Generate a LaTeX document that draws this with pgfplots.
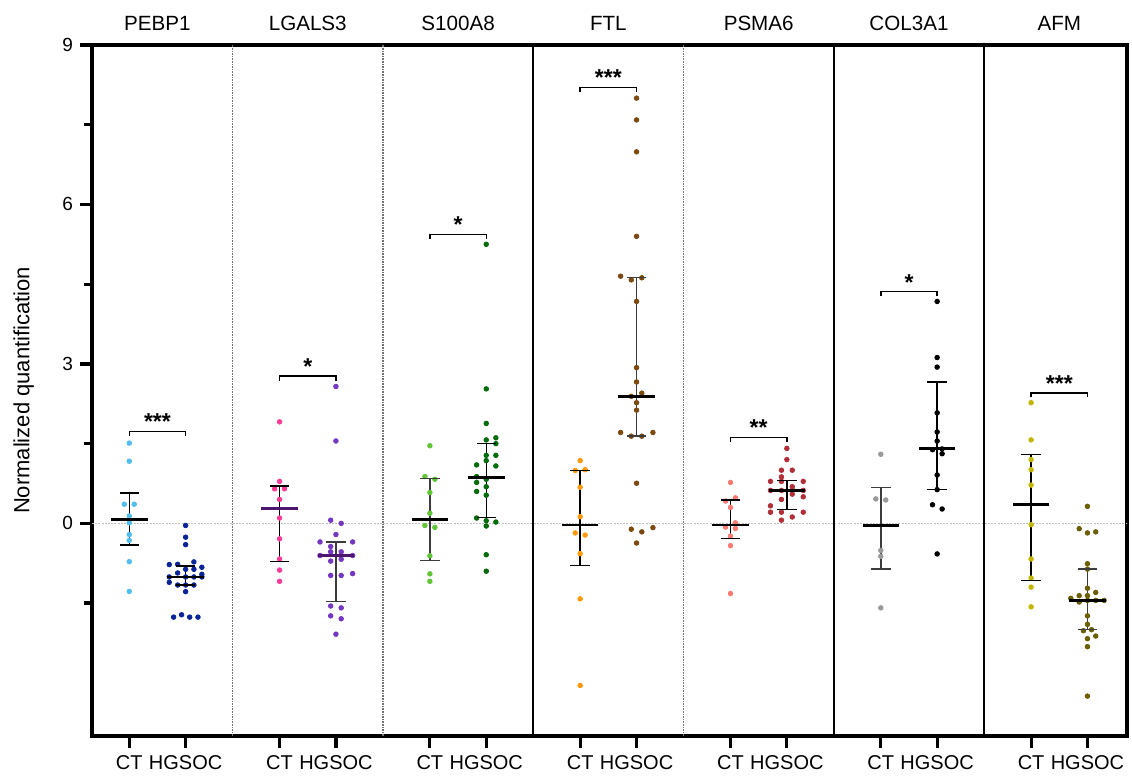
\documentclass[border=0pt]{standalone}
\usepackage{fontspec}
\setmainfont{Liberation Sans}
\usepackage{pgfplots}
\pgfplotsset{compat=1.18}

\definecolor{cPEct}{HTML}{52BEEE}
\definecolor{cPEhg}{HTML}{0A259A}
\definecolor{cLGct}{HTML}{FF3D96}
\definecolor{cLGhg}{HTML}{7438C0}
\definecolor{cLGmean}{HTML}{4E1670}
\definecolor{cSct}{HTML}{62C437}
\definecolor{cShg}{HTML}{036B0A}
\definecolor{cFct}{HTML}{FF9A0A}
\definecolor{cFhg}{HTML}{7C4A0E}
\definecolor{cPSct}{HTML}{FA7C72}
\definecolor{cPShg}{HTML}{B02F38}
\definecolor{cCct}{HTML}{9A9A9A}
\definecolor{cChg}{HTML}{000000}
\definecolor{cAct}{HTML}{C2B600}
\definecolor{cAhg}{HTML}{6A5F00}
\definecolor{errgray}{HTML}{3C3C3C}

% x, mean, low, high, error colour, mean colour
\newcommand{\summary}[6]{%
  \addplot[#5, line width=0.7pt, mark=none] coordinates {(#1,#3) (#1,#4)};
  \addplot[#5, only marks, mark=-, mark size=4.85pt, mark options={line width=0.7pt}] coordinates {(#1,#3) (#1,#4)};
  \addplot[#6, only marks, mark=-, mark size=9.15pt, mark options={line width=1.4pt}] coordinates {(#1,#2)};
}
\newcommand{\pts}[2]{%
  \addplot[only marks, mark=*, mark size=1.15pt, color=#1, mark options={draw=#1, fill=#1}] coordinates {#2};
}
% x-left, x-right, tick bottom, bar y, x-mid, stars
\newcommand{\bracket}[6]{%
  \draw[line width=0.7pt] (axis cs:#1,#3) -- (axis cs:#1,#4) -- (axis cs:#2,#4) -- (axis cs:#2,#3);
  \node[anchor=base, inner sep=0pt, font=\bfseries\fontsize{11.5}{12}\selectfont] at ([yshift=0.8pt]axis cs:#5,#4) {#6};
}
\newcommand{\dsep}[1]{\draw[black!55, line width=0.6pt, dash pattern=on 0.8pt off 0.5pt] (axis cs:#1,-4) -- (axis cs:#1,9);}
\newcommand{\ssep}[1]{\draw[black, line width=1pt] (axis cs:#1,-4) -- (axis cs:#1,9);}
\newcommand{\ptitle}[2]{\node[anchor=base, inner sep=0pt, font=\fontsize{10.3}{12}\selectfont] at ([yshift=7pt]axis cs:#1,9) {#2};}

\begin{document}
\begin{tikzpicture}
\begin{axis}[
  scale only axis, width=517.5pt, height=345.5pt,
  xmin=-0.248, xmax=6.638, ymin=-4, ymax=9,
  axis line style={line width=2pt},
  xtick={0,0.375,1,1.375,2,2.375,3,3.375,4,4.375,5,5.375,6,6.375},
  xticklabels={CT,HGSOC,CT,HGSOC,CT,HGSOC,CT,HGSOC,CT,HGSOC,CT,HGSOC,CT,HGSOC},
  ytick={0,3,6,9},
  minor ytick={-1.5,1.5,4.5,7.5},
  tick align=outside, tick pos=left,
  major tick length=6pt, minor tick length=4pt,
  major tick style={line width=1.6pt, black},
  minor tick style={line width=1.6pt, black},
  xticklabel style={font=\fontsize{10}{12}\selectfont},
  yticklabel style={font=\fontsize{9.5}{12}\selectfont},
  /pgf/number format/assume math mode=true,
  ylabel={Normalized quantification},
  ylabel style={at={(axis description cs:-0.0606,0.5)}, anchor=base, font=\fontsize{11}{13}\selectfont},
  clip=false,
]
\coordinate (bl) at (rel axis cs:0,0);
\coordinate (tr) at (rel axis cs:1,1);

% zero line
\draw[black!25, line width=0.6pt, dash pattern=on 1pt off 0.6pt] (axis cs:-0.248,0) -- (axis cs:6.638,0);
% panel separators
\dsep{0.688}\dsep{1.688}\dsep{3.688}
\ssep{2.688}\ssep{4.688}\ssep{5.688}

% panel titles
\ptitle{0.1875}{PEBP1}
\ptitle{1.1875}{LGALS3}
\ptitle{2.1875}{S100A8}
\ptitle{3.1875}{FTL}
\ptitle{4.1875}{PSMA6}
\ptitle{5.1875}{COL3A1}
\ptitle{6.1875}{AFM}

% ---------- PEBP1 ----------
\pts{cPEct}{(0,1.51) (0,1.17) (-0.033,0.36) (0.033,0.36) (0,0.14) (0,0.01) (0,-0.21) (0,-0.32) (0,-0.72) (0,-1.28)}
\pts{cPEhg}{(0.375,-0.04) (0.375,-0.26) (0.375,-0.40)
 (0.266,-0.775) (0.322,-0.77) (0.430,-0.725) (0.483,-0.826)
 (0.375,-0.864) (0.430,-0.864) (0.322,-0.933) (0.483,-0.958)
 (0.266,-1.008) (0.375,-1.008) (0.430,-1.008) (0.483,-1.008)
 (0.266,-1.109) (0.322,-1.16) (0.375,-1.16) (0.430,-1.16) (0.375,-1.285)
 (0.295,-1.764) (0.348,-1.72) (0.402,-1.764) (0.457,-1.764)}
\summary{0}{0.075}{-0.41}{0.57}{black}{black}
\summary{0.375}{-1.01}{-1.16}{-0.80}{black}{black}
\bracket{0}{0.375}{1.64}{1.73}{0.1875}{***}

% ---------- LGALS3 ----------
\pts{cLGct}{(1,1.91) (1,0.79) (0.967,0.65) (1.033,0.65) (1,0.45) (1,0.10) (1,-0.29) (1,-0.67) (1,-0.88) (1,-1.09)}
\pts{cLGhg}{(1.375,2.575) (1.375,1.55) (1.340,0.06) (1.410,0.0) (1.375,-0.21)
 (1.269,-0.35) (1.486,-0.35) (1.340,-0.435) (1.340,-0.535) (1.410,-0.535)
 (1.269,-0.605) (1.410,-0.605) (1.486,-0.605) (1.410,-0.675) (1.340,-0.71)
 (1.486,-0.945) (1.340,-0.98) (1.410,-0.98) (1.340,-1.555) (1.410,-1.59)
 (1.340,-1.74) (1.410,-1.795) (1.375,-2.085)}
\summary{1}{0.28}{-0.72}{0.70}{black}{cLGmean}
\summary{1.375}{-0.605}{-1.47}{-0.35}{errgray}{cLGmean}
\bracket{1}{1.375}{2.68}{2.77}{1.1875}{*}

% ---------- S100A8 ----------
\pts{cSct}{(2,1.46) (1.967,0.88) (2.033,0.83) (2,0.58) (2,0.19) (1.967,-0.04) (2.033,-0.075) (2,-0.61) (2,-0.95) (2,-1.09)}
\pts{cShg}{(2.375,5.25) (2.375,2.53) (2.375,1.88) (2.375,1.57) (2.439,1.61) (2.439,1.50)
 (2.375,1.28) (2.439,1.28) (2.375,1.18) (2.311,1.10) (2.439,1.08) (2.311,0.88)
 (2.375,0.83) (2.311,0.77) (2.375,0.69) (2.311,0.60) (2.375,0.53) (2.311,0.10)
 (2.375,0.05) (2.439,0.025) (2.375,-0.05) (2.375,-0.59) (2.375,-0.90)}
\summary{2}{0.075}{-0.70}{0.84}{errgray}{black}
\summary{2.375}{0.87}{0.11}{1.50}{black}{black}
\bracket{2}{2.375}{5.35}{5.44}{2.1875}{*}

% ---------- FTL ----------
\pts{cFct}{(3,1.18) (2.967,0.995) (3.033,1.01) (3,0.68) (3,0.125) (2.967,-0.18) (3.033,-0.22) (3,-0.57) (3,-1.42) (3,-3.05)}
\pts{cFhg}{(3.375,8.00) (3.375,7.59) (3.375,6.99) (3.375,5.40) (3.269,4.65) (3.340,4.58)
 (3.410,4.62) (3.375,4.175) (3.375,2.93) (3.375,2.66) (3.410,2.45) (3.340,2.39)
 (3.375,2.27) (3.375,2.13) (3.269,1.71) (3.340,1.64) (3.410,1.64) (3.484,1.71)
 (3.375,0.755) (3.340,-0.11) (3.410,-0.16) (3.484,-0.08) (3.375,-0.37)}
\summary{3}{-0.03}{-0.79}{0.99}{black}{black}
\summary{3.375}{2.39}{1.64}{4.62}{errgray}{black}
\bracket{3}{3.375}{8.11}{8.20}{3.1875}{***}

% ---------- PSMA6 ----------
\pts{cPSct}{(4,0.77) (4.033,0.48) (3.967,0.42) (4,0.30) (4.033,0.01) (3.967,-0.07) (4.033,-0.095) (4,-0.24) (4,-0.42) (4,-1.32)}
\pts{cPShg}{(4.375,1.41) (4.375,1.20) (4.339,1.00) (4.411,1.00) (4.339,0.875) (4.266,0.79)
 (4.339,0.79) (4.484,0.79) (4.411,0.69) (4.266,0.62) (4.339,0.62) (4.411,0.63)
 (4.484,0.62) (4.411,0.55) (4.484,0.50) (4.339,0.45) (4.266,0.33) (4.266,0.21)
 (4.339,0.21) (4.484,0.21) (4.411,0.12) (4.339,0.06)}
\summary{4}{-0.03}{-0.28}{0.44}{black}{black}
\summary{4.375}{0.62}{0.26}{0.81}{black}{black}
\bracket{4}{4.375}{1.53}{1.62}{4.1875}{**}

% ---------- COL3A1 ----------
\pts{cCct}{(5,1.30) (4.967,0.46) (5.033,0.44) (5,-0.51) (5,-0.62) (5,-1.59)}
\pts{cChg}{(5.375,4.175) (5.375,3.12) (5.375,2.94) (5.375,2.08) (5.375,1.72) (5.375,1.55)
 (5.344,1.385) (5.408,1.40) (5.408,1.31) (5.375,0.91) (5.375,0.635) (5.344,0.35)
 (5.408,0.27) (5.375,-0.575)}
\summary{5}{-0.04}{-0.86}{0.67}{errgray}{black}
\summary{5.375}{1.41}{0.635}{2.66}{black}{black}
\bracket{5}{5.375}{4.28}{4.36}{5.1875}{*}

% ---------- AFM ----------
\pts{cAct}{(6,2.27) (6,1.57) (6,1.20) (6,1.01) (6,0.72) (6,-0.025) (6,-0.67) (6,-1.03) (6,-1.20) (6,-1.57)}
\pts{cAhg}{(6.375,0.32) (6.320,-0.10) (6.375,-0.18) (6.430,-0.16) (6.375,-0.76) (6.375,-0.86)
 (6.375,-1.22) (6.430,-1.30) (6.320,-1.36) (6.375,-1.36) (6.264,-1.41) (6.375,-1.45)
 (6.430,-1.45) (6.486,-1.45) (6.320,-1.48) (6.375,-1.74) (6.375,-1.90) (6.348,-2.02)
 (6.402,-2.00) (6.430,-2.12) (6.375,-2.17) (6.375,-2.32) (6.375,-3.25)}
\summary{6}{0.35}{-1.07}{1.30}{black}{black}
\summary{6.375}{-1.45}{-2.00}{-0.86}{errgray}{black}
\bracket{6}{6.375}{2.37}{2.455}{6.1875}{***}

\end{axis}
\pgfresetboundingbox
\path ([shift={(-46pt,-20pt)}]bl) rectangle ([shift={(2.5pt,22.5pt)}]tr);
\end{tikzpicture}
\end{document}
